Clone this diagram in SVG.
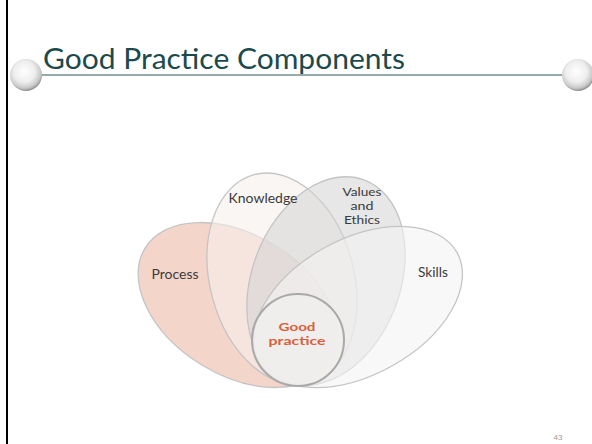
<svg xmlns="http://www.w3.org/2000/svg" width="592" height="444" viewBox="0 0 592 444">
<defs>
<style>
.petal{stroke:#c4c4c4;stroke-width:1.3}
.lbl{font-family:Lato,"Open Sans","DejaVu Sans",sans-serif;font-size:14px;fill:#3b3b3b;text-anchor:middle}
.stack{font-size:12px}
.gp{font-family:Lato,"Open Sans","DejaVu Sans",sans-serif;font-size:12px;font-weight:bold;fill:#d9603a;text-anchor:middle}
</style>
<radialGradient id="ball" cx="0.45" cy="0.4" r="0.6">
<stop offset="0" stop-color="#ffffff"/>
<stop offset="0.55" stop-color="#eeeeee"/>
<stop offset="0.85" stop-color="#c8c8c8"/>
<stop offset="1" stop-color="#8e8e8e"/>
</radialGradient>
<clipPath id="ballclip"><rect x="0" y="40" width="592" height="51"/></clipPath>
</defs>
<rect width="592" height="444" fill="#ffffff"/>
<line x1="7" y1="0" x2="7" y2="444" stroke="#000000" stroke-width="2"/>
<g id="title">
<line x1="40" y1="75" x2="565" y2="75" stroke="#93abab" stroke-width="2"/>
<g clip-path="url(#ballclip)">
<circle cx="26" cy="75" r="16" fill="url(#ball)"/>
<circle cx="578" cy="75" r="16" fill="url(#ball)"/>
</g>
<text x="43" y="69" font-family="Lato,'Open Sans','DejaVu Sans',sans-serif" font-size="29" fill="#1c4a4c" textLength="362" lengthAdjust="spacingAndGlyphs">Good Practice Components</text>
</g>
<g id="process"><ellipse class="petal" cx="238" cy="305" rx="109" ry="70" transform="rotate(31.5 238 305)" fill="#f4d5ca"/></g>
<g id="knowledge"><ellipse class="petal" cx="282" cy="279" rx="72" ry="108" transform="rotate(-15 282 279)" fill="#f7f0ed" fill-opacity="0.6"/></g>
<g id="values"><ellipse class="petal" cx="326" cy="281" rx="74" ry="108" transform="rotate(21 326 281)" fill="#d4d4d4" fill-opacity="0.55"/></g>
<g id="skills"><ellipse class="petal" cx="358" cy="307" rx="113" ry="68" transform="rotate(-28.6 358 307)" fill="#f4f4f4" fill-opacity="0.6"/></g>
<g id="good-practice"><circle cx="298" cy="340" r="46" fill="#f0eeec" fill-opacity="0.85" stroke="#a9a9a9" stroke-width="2"/>
<text class="gp" x="297" y="331" textLength="37" lengthAdjust="spacingAndGlyphs">Good</text>
<text class="gp" x="297" y="345" textLength="57" lengthAdjust="spacingAndGlyphs">practice</text></g>
<g id="labels">
<text class="lbl" x="175" y="279" textLength="47" lengthAdjust="spacingAndGlyphs">Process</text>
<text class="lbl" x="263" y="203" textLength="69" lengthAdjust="spacingAndGlyphs">Knowledge</text>
<text class="lbl stack" x="362" y="196" textLength="39" lengthAdjust="spacingAndGlyphs">Values</text>
<text class="lbl stack" x="362" y="210" textLength="23" lengthAdjust="spacingAndGlyphs">and</text>
<text class="lbl stack" x="362" y="224" textLength="36" lengthAdjust="spacingAndGlyphs">Ethics</text>
<text class="lbl" x="433" y="277" textLength="30" lengthAdjust="spacingAndGlyphs">Skills</text>
</g>
<text x="558" y="440" font-family="'Liberation Sans',sans-serif" font-size="8" fill="#9a9a9a" text-anchor="middle">43</text>
</svg>
